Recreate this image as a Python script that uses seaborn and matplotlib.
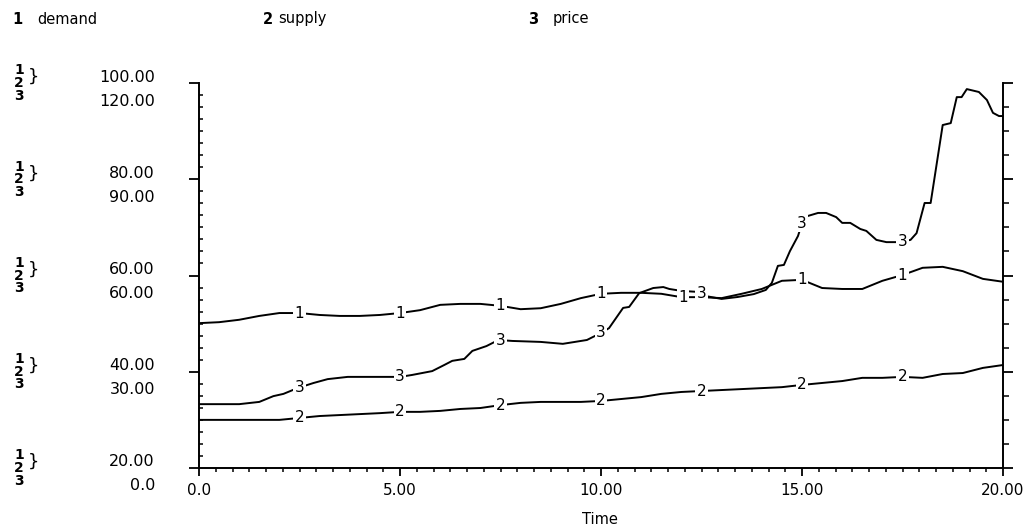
import numpy as np
import pandas as pd
import seaborn as sns
import matplotlib.pyplot as plt
from matplotlib.ticker import MultipleLocator, NullFormatter

# ---- data ------------------------------------------------------------------
time_grid = np.arange(0, 20.01, 0.5)

demand = [50.1, 50.3, 50.8, 51.6, 52.2, 52.2, 51.8, 51.6, 51.6, 51.8,
          52.2, 52.8, 53.9, 54.1, 54.1, 53.7, 53.0, 53.2, 54.1, 55.3,
          56.2, 56.4, 56.4, 56.2, 55.5, 55.5, 55.3, 56.2, 57.2, 58.9,
          59.1, 57.4, 57.2, 57.2, 58.9, 60.1, 61.6, 61.8, 60.9, 59.3,
          58.7]

supply = [15.0, 15.0, 15.0, 15.0, 15.0, 15.6, 16.2, 16.5, 16.8, 17.1,
          17.5, 17.5, 17.8, 18.4, 18.7, 19.6, 20.3, 20.6, 20.6, 20.6,
          20.9, 21.5, 22.1, 23.1, 23.7, 24.0, 24.3, 24.6, 24.9, 25.2,
          25.9, 26.5, 27.1, 28.1, 28.1, 28.4, 28.1, 29.3, 29.6, 31.2,
          32.1]

price_time = [0.0, 1.0, 1.5, 1.85, 2.1, 2.45, 2.85, 3.2, 3.7, 4.7,
              5.0, 5.3, 5.8, 6.1, 6.3, 6.6, 6.8, 7.15, 7.45, 7.8,
              8.5, 9.05, 9.65, 10.0, 10.2, 10.55, 10.7, 10.95, 11.3, 11.55,
              11.7, 12.0, 12.4, 12.6, 13.0, 13.4, 13.8, 14.1, 14.25, 14.4,
              14.55, 14.7, 14.9, 15.05, 15.4, 15.6, 15.85, 16.0, 16.2, 16.45,
              16.6, 16.85, 17.1, 17.4, 17.7, 17.85, 18.05, 18.2, 18.5, 18.7,
              18.85, 18.97, 19.1, 19.4, 19.6, 19.75, 19.9, 20.0]
price = [19.9, 19.9, 20.6, 22.4, 23.1, 24.9, 26.5, 27.7, 28.4, 28.4,
         28.4, 29.0, 30.2, 32.1, 33.4, 34.0, 36.5, 38.0, 39.9, 39.6,
         39.3, 38.7, 39.9, 42.1, 43.6, 49.9, 50.2, 54.5, 56.1, 56.4,
         55.8, 55.2, 54.9, 53.6, 52.7, 53.3, 54.2, 55.5, 57.7, 63.0,
         63.3, 67.6, 72.3, 78.2, 79.5, 79.5, 78.2, 76.4, 76.4, 74.5,
         73.9, 71.1, 70.4, 70.4, 71.1, 73.2, 82.6, 82.6, 106.9, 107.5,
         115.6, 115.6, 118.1, 117.2, 114.7, 110.7, 109.7, 109.7]

label_times = [2.5, 5.0, 7.5, 10.0, 12.5, 15.0, 17.5]
demand_label_times = [2.5, 5.0, 7.5, 10.0, 12.05, 15.0, 17.5]

demand_ticks = [100, 80, 60, 40, 20]
demand_tick_labels = ["100.00", "80.00", "60.00", "40.00", "20.00"]
other_ticks = [120, 90, 60, 30, 0]
other_tick_labels = ["120.00", "90.00", "60.00", "30.00", "0.0"]

x_ticks = [0, 5, 10, 15, 20]
x_tick_labels = ["0.0", "5.00", "10.00", "15.00", "20.00"]

legend_items = [("1", "demand"), ("2", "supply"), ("3", "price")]

# ---- figure -----------------------------------------------------------------
sns.set_theme(style="ticks")
plt.rcParams['font.family'] = ['DejaVu Sans']
plt.rcParams['text.color'] = 'black'
plt.rcParams['xtick.color'] = 'black'
plt.rcParams['ytick.color'] = 'black'

W, H = 1035, 531
fig = plt.figure(figsize=(W / 100, H / 100), dpi=100)
ax = fig.add_axes([199 / W, 1 - 468 / H, (1003 - 199) / W, (468 - 83) / H])
ax.set_facecolor('white')
fig.patch.set_facecolor('white')
ax2 = ax.twinx()

main_df = pd.DataFrame({'time': time_grid, 'demand': demand, 'supply': supply})
price_df = pd.DataFrame({'time': price_time, 'price': price})

sns.lineplot(data=main_df, x='time', y='demand', ax=ax, color='black', lw=1.4)
sns.lineplot(data=main_df, x='time', y='supply', ax=ax2, color='black', lw=1.4)
sns.lineplot(data=price_df, x='time', y='price', ax=ax2, color='black', lw=1.4)

ax.set_xlim(0, 20)
ax.set_ylim(20, 100)
ax2.set_ylim(0, 120)
for a in (ax, ax2):
    a.set_xlabel('')
    a.set_ylabel('')
    a.spines['top'].set_visible(False)
    for s in a.spines.values():
        s.set_color('black')
        s.set_linewidth(1.4)
ax.spines['right'].set_visible(False)
ax2.spines['left'].set_visible(False)
ax2.spines['bottom'].set_visible(False)

# x axis ticks
ax.set_xticks(x_ticks)
ax.set_xticklabels(x_tick_labels, fontsize=11, color='black')
ax.xaxis.set_minor_locator(MultipleLocator(5 / 12))
ax.tick_params(axis='x', which='major', direction='out', length=6, width=1.3,
               pad=5)
ax.tick_params(axis='x', which='minor', direction='out', length=3, width=1.1)

# left (demand) ticks, labels drawn by hand
ax.set_yticks(demand_ticks)
ax.yaxis.set_major_formatter(NullFormatter())
ax.yaxis.set_minor_locator(MultipleLocator(2.5))
ax.tick_params(axis='y', which='major', direction='out', length=7, width=1.3)
ax.tick_params(axis='y', which='minor', direction='in', length=3, width=1.1)

# right ticks
ax2.set_yticks(other_ticks)
ax2.yaxis.set_major_formatter(NullFormatter())
ax2.yaxis.set_minor_locator(MultipleLocator(7.5))
ax2.tick_params(axis='y', which='major', direction='out', length=7, width=1.3)
ax2.tick_params(axis='y', which='minor', direction='out', length=4, width=1.1)

# stacked scale labels on the left
for dv, dl, ol in zip(demand_ticks, demand_tick_labels, other_tick_labels):
    ax2.annotate(dl, xy=(155 / W, dv), xycoords=('figure fraction', ax.transData),
                 xytext=(0, 6), textcoords='offset pixels',
                 ha='right', va='center', fontsize=11.5, annotation_clip=False)
    ax2.annotate(ol, xy=(155 / W, dv), xycoords=('figure fraction', ax.transData),
                 xytext=(0, -18), textcoords='offset pixels',
                 ha='right', va='center', fontsize=11.5, annotation_clip=False)
    ax2.annotate("1\n2\n3", xy=(19 / W, dv), xycoords=('figure fraction', ax.transData),
                 xytext=(0, 0), textcoords='offset pixels', linespacing=0.88,
                 ha='center', va='center', fontsize=10, fontweight='bold',
                 annotation_clip=False)
    ax2.annotate("}", xy=(33 / W, dv), xycoords=('figure fraction', ax.transData),
                 xytext=(0, 6), textcoords='offset pixels',
                 ha='center', va='center', fontsize=13, annotation_clip=False)

# numbers riding on the curves
box = dict(boxstyle='square,pad=0.08', facecolor='white', edgecolor='none')
for t in demand_label_times:
    ax2.text(t, np.interp(t, time_grid, demand), "1", transform=ax.transData,
             ha='center', va='center', fontsize=11, bbox=box, zorder=5)
for t in label_times:
    ax2.text(t, np.interp(t, time_grid, supply), "2",
             ha='center', va='center', fontsize=11, bbox=box, zorder=5)
    ax2.text(t, np.interp(t, price_time, price), "3",
             ha='center', va='center', fontsize=11, bbox=box, zorder=5)

# legend row along the top
legend_x = [(12, 37), (263, 278), (528, 553)]
for (num, name), (x0, x1) in zip(legend_items, legend_x):
    fig.text(x0 / W, 1 - 19 / H, num, fontsize=10.5, fontweight='bold',
             ha='left', va='center')
    fig.text(x1 / W, 1 - 19 / H, name, fontsize=10.5,
             ha='left', va='center')

fig.text(600 / W, 1 - 520 / H, "Time", fontsize=10.5, ha='center', va='center')

fig.savefig('out.png', dpi=100, facecolor='white')
